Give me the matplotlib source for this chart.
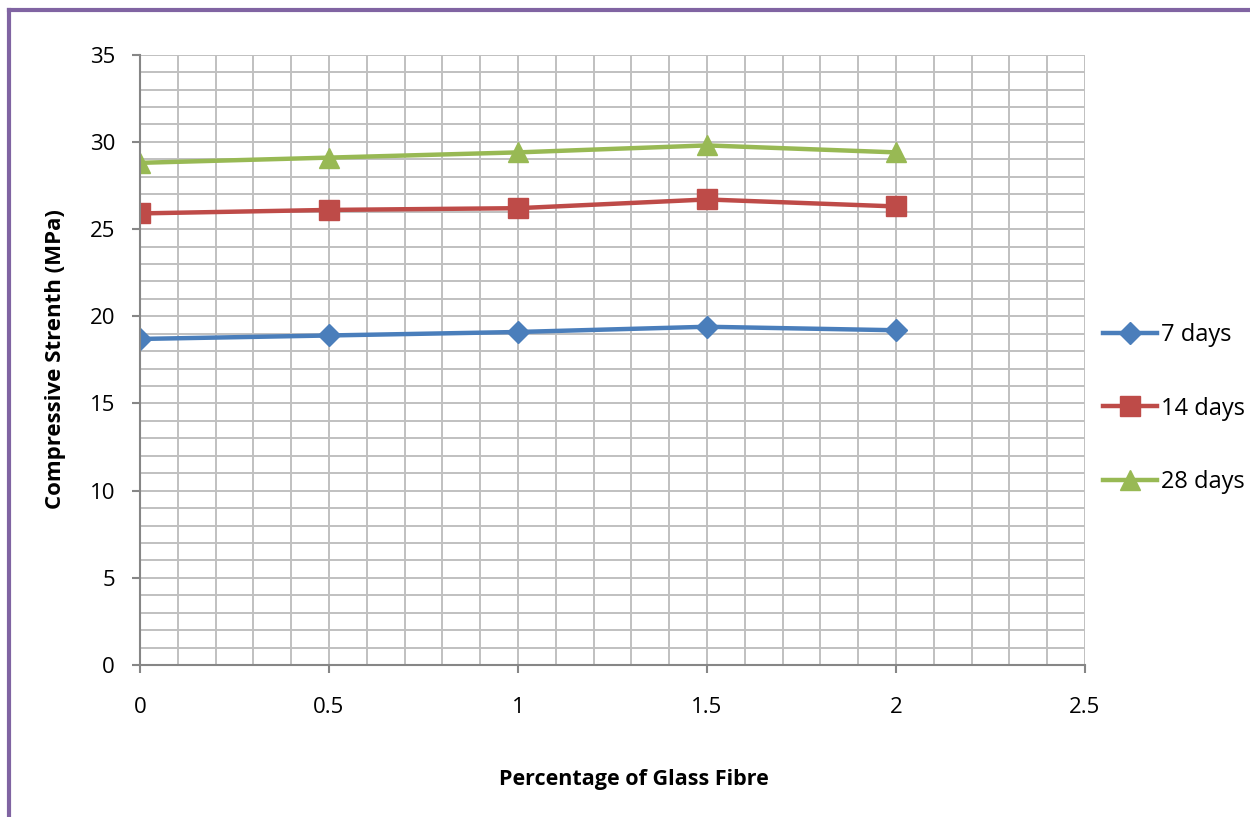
import matplotlib.pyplot as plt
from matplotlib.lines import Line2D
from matplotlib.ticker import MultipleLocator

fibre = [0, 0.5, 1, 1.5, 2]
days_7 = [18.7, 18.9, 19.1, 19.4, 19.2]
days_14 = [25.9, 26.1, 26.2, 26.7, 26.3]
days_28 = [28.8, 29.1, 29.4, 29.8, 29.4]
labels = ['7 days', '14 days', '28 days']

plt.rcParams['font.family'] = ['Open Sans', 'DejaVu Sans']

fig = plt.figure(figsize=(12.5, 8.17), dpi=100)
ax = fig.add_axes([0.112, 0.186, 0.756, 0.747])

ax.plot(fibre, days_7, '-D', color='#4A7EBB', lw=3.2, ms=11, label=labels[0])
ax.plot(fibre, days_14, '-s', color='#BE4B48', lw=3.2, ms=14, label=labels[1])
ax.plot(fibre, days_28, '-^', color='#98B954', lw=3.2, ms=14, label=labels[2])

ax.set_xlim(0, 2.5)
ax.set_ylim(0, 35)
ax.xaxis.set_major_locator(MultipleLocator(0.5))
ax.xaxis.set_minor_locator(MultipleLocator(0.1))
ax.yaxis.set_major_locator(MultipleLocator(5))
ax.yaxis.set_minor_locator(MultipleLocator(1))
ax.xaxis.set_major_formatter(lambda v, pos: f'{v:g}')
ax.grid(True, which='both', color='#c0c0c0', lw=1.4)
ax.set_axisbelow(True)

for side in ['top', 'right']:
    ax.spines[side].set_visible(False)
for side in ['left', 'bottom']:
    ax.spines[side].set_color('#868686')
    ax.spines[side].set_linewidth(1.5)

ax.tick_params(which='major', direction='out', length=6, width=1.5,
               color='#868686', labelsize=16)
ax.tick_params(which='minor', length=0)
ax.tick_params(axis='x', pad=17)
ax.tick_params(axis='y', pad=12)

fig.text(634 / 1250, 1 - 780 / 817, 'Percentage of Glass Fibre', ha='center',
         va='center', fontsize=15.5, fontweight='bold')
fig.text(55 / 1250, 1 - 359 / 817, 'Compressive Strenth (MPa)', ha='center',
         va='center', rotation=90, fontsize=16, fontweight='bold')

leg = ax.legend(loc='center left', bbox_to_anchor=(1.019, 0.42), frameon=False,
                borderpad=0, borderaxespad=0, handlelength=2.3, handletextpad=0.15,
                labelspacing=2.1, fontsize=17)

# purple chart border (left and top)
for xs, ys in [([9 / 1250, 9 / 1250], [0, 1 - 9.5 / 817]),
               ([9 / 1250, 1], [1 - 9.5 / 817, 1 - 9.5 / 817])]:
    fig.add_artist(Line2D(xs, ys, color='#8064A2', lw=3, transform=fig.transFigure))

fig.savefig('out.png', dpi=100)
